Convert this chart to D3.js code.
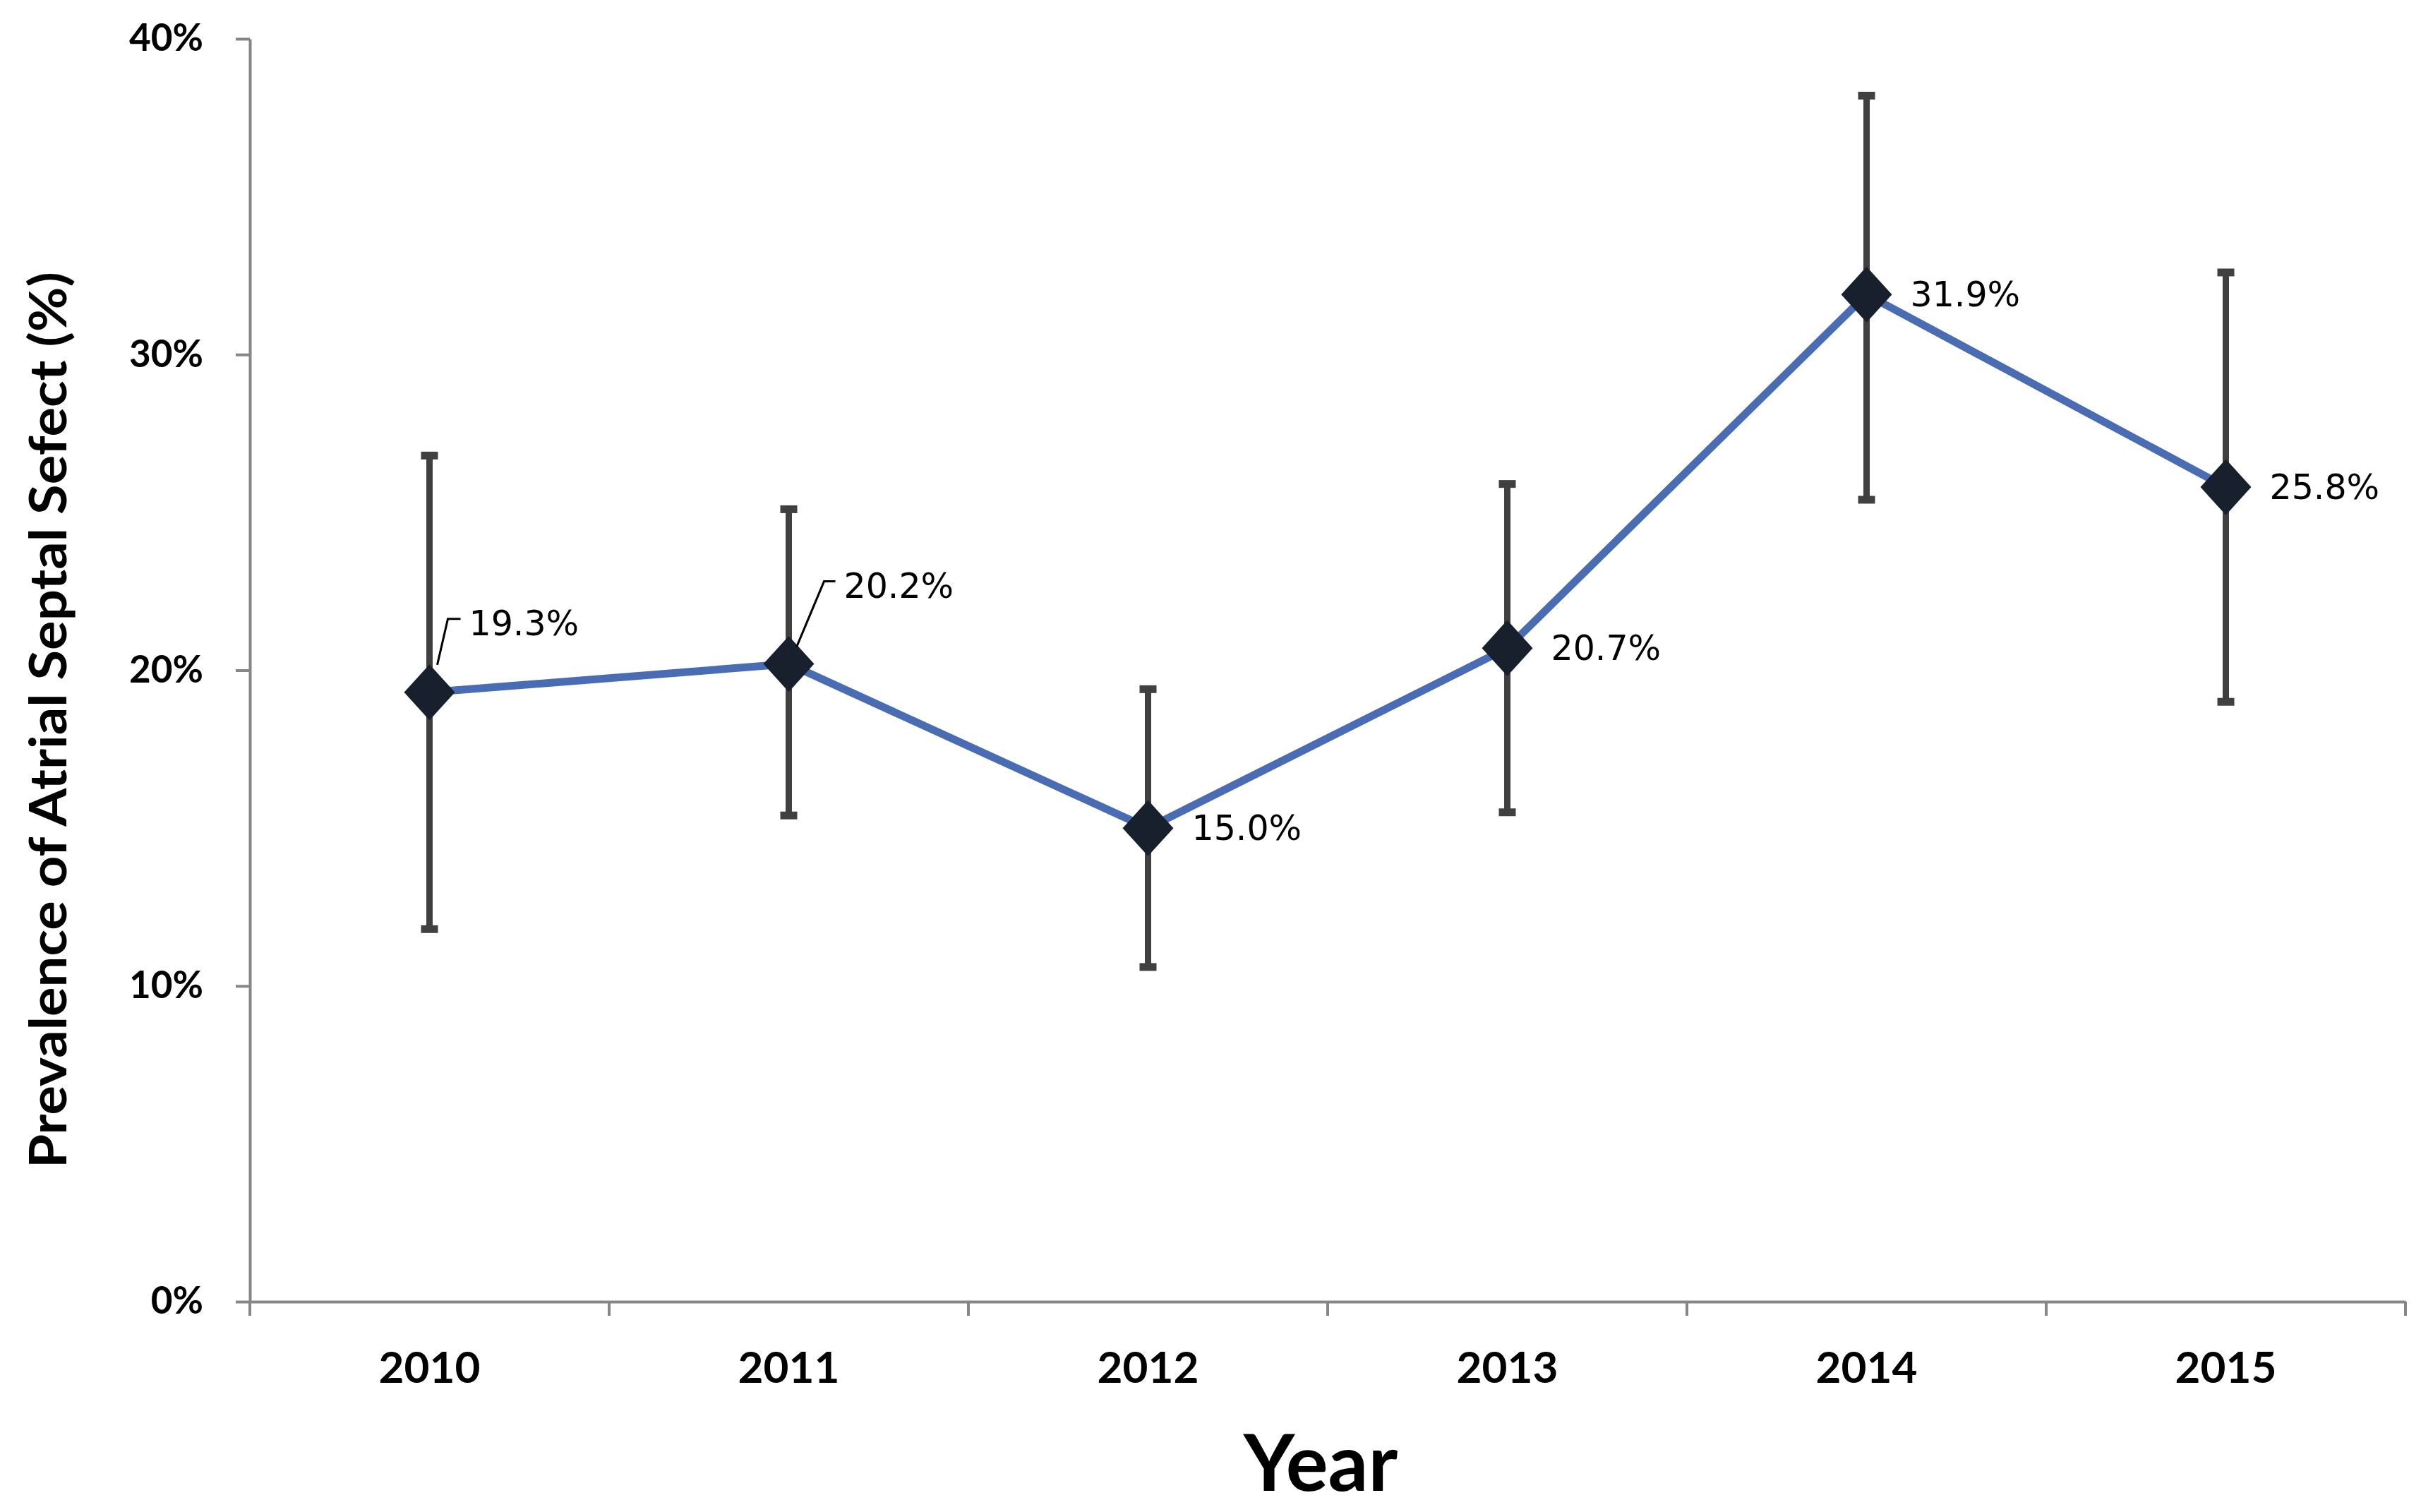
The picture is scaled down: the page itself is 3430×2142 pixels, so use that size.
<!DOCTYPE html>
<html lang="en">
<head>
  <meta charset="UTF-8">
  <title>Prevalence of Atrial Septal Defect</title>
  <script src="https://cdn.jsdelivr.net/npm/d3@7"></script>
  <style>
    html, body { margin: 0; padding: 0; background: #fff; }
    svg { display: block; }
  </style>
</head>
<body>
  <svg id="chart"></svg>
<script>
  // data
  var years = ["2010", "2011", "2012", "2013", "2014", "2015"];
  var prevalence = [19.3, 20.2, 15.0, 20.7, 31.9, 25.8];
  var upper = [26.8, 25.1, 19.4, 25.9, 38.2, 32.6];
  var lower = [11.8, 15.4, 10.6, 15.5, 25.4, 19.0];
  var yTicks = [0, 10, 20, 30, 40];
  // labels drawn with a leader line (the first two points)
  var leaderYears = ["2010", "2011"];

  var W = 3430, H = 2142;
  var margin = { top: 55, right: 22, bottom: 298, left: 354 };
  var width = W - margin.left - margin.right;
  var height = H - margin.top - margin.bottom;

  var svg = d3.select("#chart").attr("width", W).attr("height", H);
  var g = svg.append("g")
    .attr("transform", "translate(" + margin.left + "," + margin.top + ")");

  var x = d3.scaleBand().domain(years).range([0, width]).padding(0);
  var y = d3.scaleLinear().domain([0, 40]).range([height, 0]);
  var cx = function(d) { return x(d) + x.bandwidth() / 2; };

  var axisColor = "#868686";
  var boldFont = "Lato, 'Open Sans', sans-serif";

  // y axis
  var yAxis = g.append("g")
    .call(d3.axisLeft(y).tickValues(yTicks).tickFormat(function(d) { return d + "%"; })
      .tickSize(20).tickSizeOuter(0).tickPadding(46));
  yAxis.select(".domain").attr("stroke", axisColor).attr("stroke-width", 4);
  yAxis.selectAll(".tick line").attr("stroke", axisColor).attr("stroke-width", 4);
  yAxis.selectAll(".tick text")
    .attr("font-family", boldFont)
    .attr("font-weight", "bold").attr("font-size", 53).attr("fill", "#000");

  // x axis
  var xAxis = g.append("g")
    .attr("transform", "translate(0," + height + ")")
    .call(d3.axisBottom(x).tickSize(0).tickSizeOuter(0).tickPadding(71));
  xAxis.select(".domain").attr("stroke", axisColor).attr("stroke-width", 4);
  xAxis.selectAll(".tick text")
    .attr("font-family", boldFont)
    .attr("font-weight", "bold").attr("font-size", 62).attr("fill", "#000");

  // boundary ticks between categories
  var bounds = years.map(function(d) { return x(d); }).concat([x.range()[1]]);
  xAxis.selectAll(".bound").data(bounds).enter().append("line")
    .attr("class", "bound")
    .attr("x1", function(d) { return d; }).attr("x2", function(d) { return d; })
    .attr("y1", 0).attr("y2", 20)
    .attr("stroke", axisColor).attr("stroke-width", 4);

  var pts = years.map(function(d, i) {
    return { year: d, v: prevalence[i], hi: upper[i], lo: lower[i] };
  });

  // error bars
  var eb = g.append("g").attr("stroke", "#404040").attr("stroke-width", 9);
  eb.selectAll(".bar").data(pts).enter().append("line")
    .attr("x1", function(d) { return cx(d.year); }).attr("x2", function(d) { return cx(d.year); })
    .attr("y1", function(d) { return y(d.hi); }).attr("y2", function(d) { return y(d.lo); });
  eb.selectAll(".capHi").data(pts).enter().append("line")
    .attr("x1", function(d) { return cx(d.year) - 12; }).attr("x2", function(d) { return cx(d.year) + 12; })
    .attr("y1", function(d) { return y(d.hi); }).attr("y2", function(d) { return y(d.hi); })
    .attr("stroke-width", 11);
  eb.selectAll(".capLo").data(pts).enter().append("line")
    .attr("x1", function(d) { return cx(d.year) - 12; }).attr("x2", function(d) { return cx(d.year) + 12; })
    .attr("y1", function(d) { return y(d.lo); }).attr("y2", function(d) { return y(d.lo); })
    .attr("stroke-width", 11);

  // line
  var line = d3.line()
    .x(function(d) { return cx(d.year); })
    .y(function(d) { return y(d.v); });
  g.append("path").datum(pts)
    .attr("d", line)
    .attr("fill", "none")
    .attr("stroke", "#4a6cb3")
    .attr("stroke-width", 11)
    .attr("stroke-linejoin", "round");

  // diamond markers
  g.selectAll(".marker").data(pts).enter().append("path")
    .attr("class", "marker")
    .attr("transform", function(d) { return "translate(" + cx(d.year) + "," + y(d.v) + ") scale(1,1.1)"; })
    .attr("d", d3.symbol().type(d3.symbolDiamond2).size(3300))
    .attr("fill", "#19202d");

  // data labels
  var labelFont = "'DejaVu Sans', Verdana, sans-serif";
  var lab = g.append("g");
  pts.forEach(function(d) {
    var px = cx(d.year), py = y(d.v);
    var fmt = d.v.toFixed(1) + "%";
    if (leaderYears.indexOf(d.year) >= 0) {
      var first = d.year === leaderYears[0];
      var dx0 = 11, dy0 = first ? -39 : -24;
      var dx1 = first ? 26 : 50, dy1 = first ? -104 : -117;
      var dx2 = first ? 44 : 66;
      lab.append("path")
        .attr("d", "M" + (px + dx0) + "," + (py + dy0) + "L" + (px + dx1) + "," + (py + dy1) + "L" + (px + dx2) + "," + (py + dy1))
        .attr("fill", "none").attr("stroke", "#000").attr("stroke-width", 3);
      lab.append("text")
        .attr("x", px + dx2 + 12).attr("y", py + dy1 + 6)
        .attr("dy", "0.35em")
        .attr("font-family", labelFont).attr("font-size", 49).attr("fill", "#000")
        .text(fmt);
    } else {
      lab.append("text")
        .attr("x", px + 62).attr("y", py)
        .attr("dy", "0.35em")
        .attr("font-family", labelFont).attr("font-size", 49).attr("fill", "#000")
        .text(fmt);
    }
  });

  // axis titles
  svg.append("text")
    .attr("x", margin.left + width / 2 - 10).attr("y", 2112)
    .attr("text-anchor", "middle")
    .attr("font-family", boldFont)
    .attr("font-weight", "bold").attr("font-size", 112)
    .text("Year");

  svg.append("text")
    .attr("transform", "translate(94," + 1020 + ") rotate(-90)")
    .attr("text-anchor", "middle")
    .attr("font-family", boldFont)
    .attr("font-weight", "bold").attr("font-size", 72)
    .attr("textLength", 1270).attr("lengthAdjust", "spacingAndGlyphs")
    .text("Prevalence of Atrial Septal Sefect (%)");
</script>
</body>
</html>
